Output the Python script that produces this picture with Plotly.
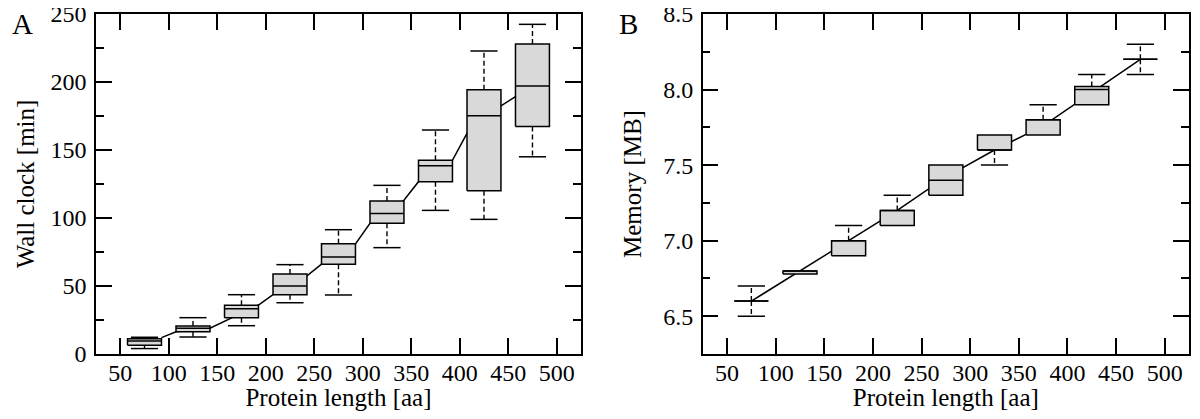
import plotly.graph_objects as go

# protein length bins (box centres)
lengths = [75, 125, 175, 225, 275, 325, 375, 425, 475]

# panel A: wall clock [min]
wall_low = [4.0, 12.5, 20.8, 37.7, 43.4, 78.2, 105.6, 99.0, 145.0]
wall_q1 = [6.4, 16.4, 26.7, 43.6, 66.0, 96.1, 126.7, 120.1, 167.2]
wall_med = [9.5, 18.9, 33.3, 50.0, 71.3, 103.4, 138.5, 175.2, 197.0]
wall_q3 = [11.3, 20.6, 35.8, 58.8, 81.1, 112.5, 142.4, 194.3, 227.9]
wall_high = [12.3, 26.7, 43.6, 65.7, 91.4, 124.0, 164.7, 222.8, 242.4]

# trend line of panel A, read where it is visible between the boxes
wall_trend_x = [92.5, 107.5, 142.5, 157.5, 192.5, 207.5, 242.5, 257.5,
                292.5, 307.5, 342.5, 357.5, 392.5, 407.5, 442.5, 457.5]
wall_trend_y = [12.0, 16.4, 18.9, 24.0, 36.0, 43.6, 57.5, 66.0,
                81.0, 96.1, 113.0, 126.7, 142.4, 162.3, 182.4, 189.2]

# panel B: memory [MB]
mem_low = [6.5, 6.78, 6.9, 7.1, 7.3, 7.5, 7.7, 7.9, 8.1]
mem_q1 = [6.6, 6.78, 6.9, 7.1, 7.3, 7.6, 7.7, 7.9, 8.2]
mem_med = [6.6, 6.8, 7.0, 7.2, 7.4, 7.6, 7.8, 8.0, 8.2]
mem_q3 = [6.6, 6.8, 7.0, 7.2, 7.5, 7.7, 7.8, 8.02, 8.2]
mem_high = [6.7, 6.8, 7.1, 7.3, 7.5, 7.7, 7.9, 8.1, 8.3]

mem_trend_x = lengths
mem_trend_y = [6.6, 6.8, 7.0, 7.2, 7.42, 7.6, 7.76, 7.98, 8.2]

x_ticks = [50, 100, 150, 200, 250, 300, 350, 400, 450, 500]

HALF = 17.5   # half box width in x units
CAP = 14.0    # half whisker cap width
FONT = "Liberation Serif"
GREY = "#d9d9d9"

fig = go.Figure()


def add_panel(xa, ya, tx, ty, low, q1, med, q3, high):
    # trend line first so the boxes cover it
    fig.add_trace(go.Scatter(x=tx, y=ty, mode="lines", xaxis=xa, yaxis=ya,
                             line=dict(color="black", width=1.5)))
    rx, ry, mx, my, wx, wy, cx, cy = [], [], [], [], [], [], [], []
    for c, lo, a, m, b, hi in zip(lengths, low, q1, med, q3, high):
        rx += [c - HALF, c + HALF, c + HALF, c - HALF, c - HALF, None]
        ry += [a, a, b, b, a, None]
        mx += [c - HALF, c + HALF, None]
        my += [m, m, None]
        if hi > b:
            wx += [c, c, None]
            wy += [b, hi, None]
            cx += [c - CAP, c + CAP, None]
            cy += [hi, hi, None]
        if lo < a:
            wx += [c, c, None]
            wy += [a, lo, None]
            cx += [c - CAP, c + CAP, None]
            cy += [lo, lo, None]
    fig.add_trace(go.Scatter(x=wx, y=wy, mode="lines", xaxis=xa, yaxis=ya,
                             line=dict(color="black", width=1.4, dash="5px,3px")))
    fig.add_trace(go.Scatter(x=cx, y=cy, mode="lines", xaxis=xa, yaxis=ya,
                             line=dict(color="black", width=1.5)))
    fig.add_trace(go.Scatter(x=rx, y=ry, mode="lines", fill="toself", fillcolor=GREY,
                             xaxis=xa, yaxis=ya, line=dict(color="black", width=1.5)))
    fig.add_trace(go.Scatter(x=mx, y=my, mode="lines", xaxis=xa, yaxis=ya,
                             line=dict(color="black", width=1.5)))


add_panel("x", "y", wall_trend_x, wall_trend_y, wall_low, wall_q1, wall_med, wall_q3, wall_high)
add_panel("x2", "y2", mem_trend_x, mem_trend_y, mem_low, mem_q1, mem_med, mem_q3, mem_high)

axis_common = dict(showline=True, linecolor="black", linewidth=1.5, mirror="ticks",
                   ticks="inside", ticklen=16, tickwidth=1.5, tickcolor="black",
                   showgrid=False, zeroline=False, automargin=False,
                   ticklabeloverflow="allow",
                   tickfont=dict(family=FONT, size=24, color="black"),
                   title_font=dict(family=FONT, size=25, color="black"))

xa = dict(axis_common, range=[25, 525], tickvals=x_ticks, ticklabelstandoff=-4,
          title_text="Protein length [aa]", title_standoff=11)

minor_y = dict(ticks="inside", ticklen=8, tickwidth=1.5, tickcolor="black")

# the page body adds an 8px margin, so the figure is 16px smaller than the window
fig.update_layout(
    width=1184, height=403,
    margin=dict(l=88, r=3, t=6, b=57),
    paper_bgcolor="white", plot_bgcolor="white",
    showlegend=False,
    xaxis=dict(xa, domain=[0, 0.4437], anchor="y"),
    xaxis2=dict(xa, domain=[0.5551, 1], anchor="y2"),
    yaxis=dict(axis_common, range=[0, 250], dtick=50, anchor="x", ticklabelstandoff=3,
               minor=dict(minor_y, dtick=25),
               title_text="Wall clock [min]", title_standoff=9),
    yaxis2=dict(axis_common, range=[6.25, 8.5], dtick=0.5, tickformat=".1f", anchor="x2",
                ticklabelstandoff=3, minor=dict(minor_y, dtick=0.25),
                title_text="Memory [MB]", title_standoff=14),
    annotations=[
        dict(text="A", x=-0.0787, y=0.972, xref="paper", yref="paper", xanchor="left",
             yanchor="middle", showarrow=False, font=dict(family=FONT, size=29, color="black")),
        dict(text="B", x=0.4767, y=0.972, xref="paper", yref="paper", xanchor="left",
             yanchor="middle", showarrow=False, font=dict(family=FONT, size=29, color="black")),
    ],
)

fig.write_html("out.html")
